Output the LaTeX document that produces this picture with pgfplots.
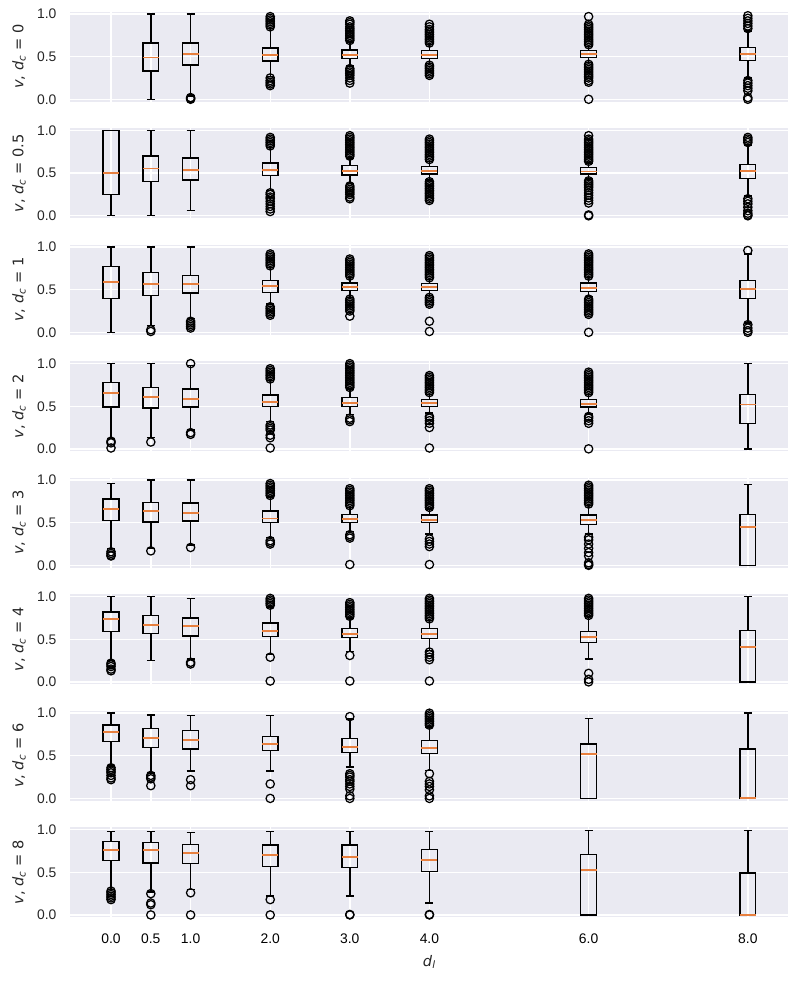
\documentclass[border=0pt]{standalone}
\usepackage{fontspec}
\setmainfont{Liberation Sans}
\newfontfamily\dvs{DejaVu Sans}
\usepackage{pgfplots}
\pgfplotsset{compat=1.18}
\usepgfplotslibrary{groupplots,statistics}

\definecolor{bgcol}{HTML}{EAEAF2}
\definecolor{medcol}{HTML}{E8803F}
\definecolor{txtcol}{HTML}{262626}

\pgfplotsset{
  bp/.style={black, line width=1pt, mark=o, mark size=3pt,
    mark options={solid, black, line width=0.9pt},
    boxplot/draw direction=y,
    boxplot/box extend=0.2, boxplot/whisker extend=0.1,
    boxplot/every median/.style={draw=medcol, line width=1.4pt}},
}
% box with outliers: pos, lower whisker, q1, median, q3, upper whisker, outliers
\newcommand\bx[7]{\addplot[bp, boxplot prepared={draw position=#1,
  lower whisker=#2, lower quartile=#3, median=#4, upper quartile=#5,
  upper whisker=#6}] table[row sep=\\, header=false, y index=0] {#7};}
% box without outliers
\newcommand\bxn[6]{\addplot[bp, boxplot prepared={draw position=#1,
  lower whisker=#2, lower quartile=#3, median=#4, upper quartile=#5,
  upper whisker=#6}] coordinates {};}
\newcommand\yl[1]{{\dvs\textit{v}, \textit{d}\textsubscript{\textit{c}} = #1}}

\begin{document}
\begin{tikzpicture}
\begin{groupplot}[
  group style={group size=1 by 8, vertical sep=19.1pt, xticklabels at=edge bottom},
  scale only axis, width=517pt, height=64.8pt,
  xmin=-0.51, xmax=8.51, ymin=-0.028, ymax=1.028,
  xtick={0,0.5,1,2,3,4,6,8},
  xticklabels={0.0,0.5,1.0,2.0,3.0,4.0,6.0,8.0},
  ytick={0,0.5,1}, yticklabels={0.0,0.5,1.0},
  grid=major, major grid style={white, line width=1pt},
  axis line style={draw=none}, major tick length=0pt,
  axis background/.style={fill=bgcol},
  tick label style={font=\fontsize{10}{12}\selectfont, inner sep=0pt},
  yticklabel style={anchor=east, xshift=-9.9pt, text=txtcol},
  xticklabel style={anchor=center, yshift=-15.6pt, text=black},
  ylabel style={at={([xshift=-37pt]axis description cs:0,0.5)}, anchor=center,
    font=\fontsize{10.5}{12}\selectfont, text=txtcol},
  xlabel style={at={([yshift=-32pt]axis description cs:0.5,0)}, anchor=center,
    font=\fontsize{10.5}{12}\selectfont, text=txtcol},
]
% d_c = 0
\nextgroupplot[ylabel={\yl{0}}]
\bxn{0.5}{0.0}{0.33}{0.49}{0.66}{1.0}
\bx{1}{0.04}{0.40}{0.53}{0.66}{1.0}{0.0\\0.01\\0.02\\}
\bx{2}{0.27}{0.45}{0.52}{0.60}{0.83}{0.85\\0.87\\0.89\\0.91\\0.93\\0.95\\0.97\\0.25\\0.22\\0.20\\0.18\\0.16\\}
\bx{3}{0.39}{0.48}{0.52}{0.58}{0.67}{0.69\\0.71\\0.73\\0.75\\0.77\\0.79\\0.81\\0.83\\0.85\\0.88\\0.90\\0.92\\0.36\\0.34\\0.32\\0.30\\0.28\\0.25\\0.22\\0.19\\}
\bx{4}{0.42}{0.48}{0.52}{0.57}{0.64}{0.66\\0.68\\0.70\\0.72\\0.74\\0.76\\0.78\\0.80\\0.82\\0.85\\0.88\\0.40\\0.38\\0.36\\0.34\\0.32\\0.30\\0.28\\}
\bx{6}{0.43}{0.49}{0.53}{0.57}{0.62}{0.64\\0.66\\0.68\\0.70\\0.72\\0.74\\0.76\\0.78\\0.80\\0.82\\0.84\\0.86\\0.88\\0.97\\0.41\\0.39\\0.37\\0.35\\0.33\\0.31\\0.29\\0.27\\0.25\\0.22\\0.20\\0.0\\}
\bx{8}{0.25}{0.455}{0.53}{0.61}{0.80}{0.83\\0.86\\0.89\\0.92\\0.95\\0.98\\0.22\\0.19\\0.16\\0.13\\0.10\\0.02\\0.0\\}
% d_c = 0.5
\nextgroupplot[ylabel={\yl{0.5}}]
\bxn{0}{0.0}{0.25}{0.50}{1.0}{1.0}
\bxn{0.5}{0.0}{0.40}{0.555}{0.70}{1.0}
\bxn{1}{0.06}{0.42}{0.54}{0.68}{1.0}
\bx{2}{0.30}{0.47}{0.54}{0.62}{0.80}{0.82\\0.84\\0.86\\0.88\\0.90\\0.92\\0.27\\0.25\\0.22\\0.20\\0.17\\0.14\\0.11\\0.08\\0.05\\}
\bx{3}{0.38}{0.48}{0.53}{0.59}{0.68}{0.70\\0.72\\0.74\\0.76\\0.78\\0.80\\0.82\\0.84\\0.86\\0.88\\0.90\\0.92\\0.94\\0.35\\0.33\\0.31\\0.29\\0.27\\0.25\\0.22\\0.20\\}
\bx{4}{0.42}{0.49}{0.53}{0.58}{0.64}{0.66\\0.68\\0.70\\0.72\\0.74\\0.76\\0.78\\0.80\\0.82\\0.84\\0.86\\0.88\\0.90\\0.40\\0.38\\0.36\\0.34\\0.32\\0.30\\0.28\\0.26\\0.24\\0.22\\0.20\\0.18\\}
\bx{6}{0.43}{0.49}{0.52}{0.57}{0.62}{0.64\\0.66\\0.68\\0.70\\0.72\\0.74\\0.76\\0.78\\0.80\\0.82\\0.84\\0.86\\0.88\\0.90\\0.94\\0.41\\0.39\\0.37\\0.35\\0.33\\0.30\\0.27\\0.24\\0.21\\0.18\\0.15\\0.01\\0.0\\}
\bx{8}{0.23}{0.44}{0.53}{0.60}{0.83}{0.86\\0.88\\0.90\\0.92\\0.20\\0.17\\0.14\\0.10\\0.06\\0.03\\0.01\\0.0\\}
% d_c = 1
\nextgroupplot[ylabel={\yl{1}}]
\bxn{0}{0.0}{0.40}{0.59}{0.77}{1.0}
\bx{0.5}{0.08}{0.43}{0.57}{0.70}{1.0}{0.01\\0.03\\}
\bx{1}{0.16}{0.46}{0.57}{0.67}{1.0}{0.13\\0.11\\0.09\\0.07\\0.05\\}
\bx{2}{0.33}{0.47}{0.54}{0.61}{0.76}{0.78\\0.80\\0.82\\0.84\\0.86\\0.88\\0.90\\0.92\\0.30\\0.28\\0.26\\0.24\\0.22\\0.20\\}
\bx{3}{0.41}{0.49}{0.53}{0.58}{0.64}{0.66\\0.68\\0.70\\0.72\\0.74\\0.76\\0.78\\0.80\\0.82\\0.84\\0.86\\0.39\\0.37\\0.35\\0.33\\0.31\\0.29\\0.27\\0.25\\0.19\\}
\bx{4}{0.43}{0.49}{0.53}{0.57}{0.62}{0.64\\0.66\\0.68\\0.70\\0.72\\0.74\\0.76\\0.78\\0.80\\0.82\\0.84\\0.86\\0.88\\0.90\\0.41\\0.39\\0.37\\0.35\\0.33\\0.13\\0.01\\}
\bx{6}{0.42}{0.48}{0.52}{0.58}{0.64}{0.66\\0.68\\0.70\\0.72\\0.74\\0.76\\0.78\\0.80\\0.82\\0.84\\0.86\\0.88\\0.90\\0.92\\0.39\\0.37\\0.35\\0.33\\0.31\\0.29\\0.27\\0.25\\0.23\\0.21\\0.0\\}
\bx{8}{0.11}{0.40}{0.51}{0.61}{0.92}{0.96\\0.09\\0.05\\0.02\\0.0\\}
% d_c = 2
\nextgroupplot[ylabel={\yl{2}}]
\bx{0}{0.12}{0.49}{0.66}{0.78}{1.0}{0.09\\0.07\\0.01\\}
\bx{0.5}{0.13}{0.48}{0.61}{0.72}{1.0}{0.08\\}
\bx{1}{0.22}{0.49}{0.58}{0.70}{0.98}{1.0\\0.19\\0.17\\}
\bx{2}{0.32}{0.50}{0.55}{0.63}{0.80}{0.82\\0.84\\0.86\\0.88\\0.90\\0.92\\0.94\\0.28\\0.26\\0.24\\0.22\\0.16\\0.13\\0.01\\}
\bx{3}{0.40}{0.50}{0.54}{0.60}{0.70}{0.72\\0.74\\0.76\\0.78\\0.80\\0.82\\0.84\\0.86\\0.88\\0.90\\0.92\\0.94\\0.96\\0.98\\1.0\\0.36\\0.34\\0.32\\}
\bx{4}{0.42}{0.50}{0.54}{0.58}{0.64}{0.66\\0.68\\0.70\\0.72\\0.74\\0.76\\0.78\\0.80\\0.82\\0.84\\0.86\\0.38\\0.36\\0.33\\0.30\\0.25\\0.01\\}
\bx{6}{0.41}{0.49}{0.53}{0.58}{0.64}{0.66\\0.68\\0.70\\0.72\\0.74\\0.76\\0.78\\0.80\\0.82\\0.84\\0.86\\0.88\\0.90\\0.38\\0.36\\0.33\\0.30\\0.0\\}
\bxn{8}{0.0}{0.30}{0.52}{0.64}{1.0}
% d_c = 3
\nextgroupplot[ylabel={\yl{3}}]
\bx{0}{0.20}{0.53}{0.66}{0.78}{0.96}{0.16\\0.14\\0.12\\0.11\\}
\bx{0.5}{0.20}{0.51}{0.64}{0.74}{1.0}{0.17\\}
\bx{1}{0.24}{0.52}{0.61}{0.73}{1.0}{0.21\\}
\bx{2}{0.33}{0.50}{0.55}{0.64}{0.80}{0.82\\0.84\\0.86\\0.88\\0.90\\0.92\\0.94\\0.96\\0.29\\0.27\\0.25\\}
\bx{3}{0.40}{0.50}{0.54}{0.60}{0.68}{0.70\\0.72\\0.74\\0.76\\0.78\\0.80\\0.82\\0.84\\0.86\\0.88\\0.90\\0.36\\0.34\\0.32\\0.01\\}
\bx{4}{0.37}{0.50}{0.53}{0.59}{0.66}{0.68\\0.70\\0.72\\0.74\\0.76\\0.78\\0.80\\0.82\\0.84\\0.86\\0.88\\0.90\\0.31\\0.28\\0.25\\0.22\\0.01\\}
\bx{6}{0.37}{0.48}{0.53}{0.59}{0.70}{0.72\\0.74\\0.76\\0.78\\0.80\\0.82\\0.84\\0.86\\0.88\\0.90\\0.92\\0.94\\0.33\\0.30\\0.25\\0.20\\0.15\\0.11\\0.03\\0.01\\0.0\\}
\bxn{8}{0.0}{0.0}{0.45}{0.60}{0.95}
% d_c = 4
\nextgroupplot[ylabel={\yl{4}}]
\bx{0}{0.25}{0.59}{0.74}{0.82}{1.0}{0.22\\0.20\\0.18\\0.15\\0.13\\}
\bxn{0.5}{0.25}{0.57}{0.67}{0.78}{1.0}
\bx{1}{0.27}{0.54}{0.66}{0.75}{0.98}{0.23\\0.21\\}
\bx{2}{0.32}{0.53}{0.60}{0.69}{0.88}{0.90\\0.92\\0.94\\0.96\\0.98\\0.29\\0.01\\}
\bx{3}{0.36}{0.52}{0.56}{0.63}{0.75}{0.77\\0.79\\0.81\\0.83\\0.85\\0.87\\0.89\\0.91\\0.93\\0.31\\0.01\\}
\bx{4}{0.37}{0.51}{0.56}{0.63}{0.72}{0.74\\0.76\\0.78\\0.80\\0.82\\0.84\\0.86\\0.88\\0.90\\0.92\\0.94\\0.96\\0.98\\0.35\\0.32\\0.29\\0.26\\0.01\\}
\bx{6}{0.27}{0.46}{0.53}{0.59}{0.77}{0.78\\0.80\\0.82\\0.84\\0.86\\0.88\\0.90\\0.92\\0.94\\0.96\\0.98\\0.10\\0.03\\0.0\\}
\bxn{8}{0.0}{0.0}{0.41}{0.60}{1.0}
% d_c = 6
\nextgroupplot[ylabel={\yl{6}}]
\bx{0}{0.38}{0.67}{0.78}{0.86}{1.0}{0.36\\0.34\\0.32\\0.30\\0.27\\0.24\\0.22\\}
\bx{0.5}{0.30}{0.60}{0.71}{0.82}{0.98}{0.27\\0.25\\0.23\\0.15\\}
\bx{1}{0.32}{0.58}{0.69}{0.80}{0.97}{0.22\\0.15\\}
\bx{2}{0.32}{0.56}{0.64}{0.73}{0.97}{0.17\\0.0\\}
\bx{3}{0.37}{0.54}{0.60}{0.70}{0.93}{0.96\\0.29\\0.27\\0.25\\0.22\\0.20\\0.17\\0.14\\0.11\\0.03\\0.0\\}
\bx{4}{0.33}{0.53}{0.59}{0.68}{0.84}{0.86\\0.88\\0.90\\0.92\\0.94\\0.96\\0.98\\1.0\\0.29\\0.20\\0.17\\0.14\\0.10\\0.03\\0.0\\}
\bxn{6}{0.0}{0.0}{0.52}{0.64}{0.94}
\bxn{8}{0.0}{0.0}{0.0}{0.58}{1.0}
% d_c = 8
\nextgroupplot[ylabel={\yl{8}}, xlabel={{\dvs\textit{d}\textsubscript{\textit{l}}}}]
\bx{0}{0.30}{0.64}{0.76}{0.86}{0.98}{0.28\\0.26\\0.24\\0.22\\0.20\\0.18\\}
\bx{0.5}{0.27}{0.61}{0.76}{0.85}{0.98}{0.25\\0.14\\0.12\\0.0\\}
\bx{1}{0.30}{0.60}{0.73}{0.83}{0.97}{0.26\\0.0\\}
\bx{2}{0.22}{0.57}{0.70}{0.82}{0.98}{0.18\\0.0\\}
\bx{3}{0.22}{0.56}{0.68}{0.82}{0.98}{0.0\\0.005\\}
\bx{4}{0.14}{0.51}{0.65}{0.77}{0.98}{0.0\\0.005\\}
\bxn{6}{0.0}{0.0}{0.53}{0.71}{0.99}
\bxn{8}{0.0}{0.0}{0.0}{0.49}{0.99}
\end{groupplot}
\path (group c1r1.north west) ++(-50.7pt,8.4pt) coordinate (A);
\path (group c1r8.south east) ++(5.8pt,-47.3pt) coordinate (B);
\path (A) rectangle (B);
\end{tikzpicture}
\end{document}
